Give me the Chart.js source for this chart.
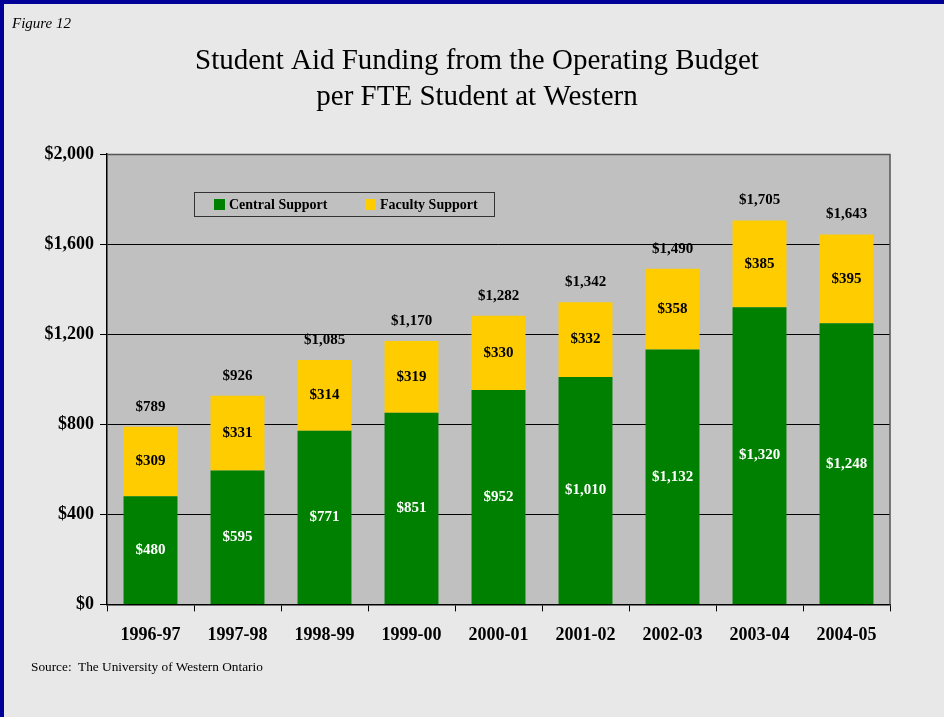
<!DOCTYPE html>
<html>
<head>
<meta charset="utf-8">
<script src="https://cdn.jsdelivr.net/npm/chart.js@4.4.1/dist/chart.umd.min.js"></script>
<style>
  html, body { margin: 0; padding: 0; background: #E8E8E8; }
  #wrap { position: relative; width: 944px; height: 717px; overflow: hidden; background: #E8E8E8; }
  #c { position: absolute; left: 0; top: 0; }
  .bl { position: absolute; left: 0; top: 0; width: 4px; height: 717px; background: #000099; }
  .bt { position: absolute; left: 0; top: 0; width: 944px; height: 4px; background: #000099; }
  #fig { position: absolute; left: 12px; top: 15px; font: italic 15px "Liberation Serif", "Times New Roman", serif; color: #000; }
  #src { position: absolute; left: 31px; top: 659px; font: 13.3px "Liberation Serif", "Times New Roman", serif; color: #000; }
</style>
</head>
<body>
<div id="wrap">
  <canvas id="c" width="944" height="717"></canvas>
  <div class="bl"></div><div class="bt"></div>
  <div id="fig">Figure 12</div>
  <div id="src">Source:&nbsp; The University of Western Ontario</div>
</div>
<script>
const categories = ["1996-97","1997-98","1998-99","1999-00","2000-01","2001-02","2002-03","2003-04","2004-05"];
const centralSupport = [480, 595, 771, 851, 952, 1010, 1132, 1320, 1248];
const facultySupport = [309, 331, 314, 319, 330, 332, 358, 385, 395];
const yTicks = [0, 400, 800, 1200, 1600, 2000];
const titleLines = ["Student Aid Funding from the Operating Budget", "per FTE Student at Western"];
const seriesNames = ["Central Support", "Faculty Support"];

const FONT = '"Liberation Serif", "Times New Roman", serif';
const GREEN = '#008000';
const YELLOW = '#FFCC00';

function money(v) { return '$' + v.toLocaleString('en-US'); }

const plotBg = {
  id: 'plotBg',
  beforeDraw(chart) {
    const { ctx, chartArea: a } = chart;
    ctx.save();
    ctx.fillStyle = '#C0C0C0';
    ctx.fillRect(a.left, a.top, a.right - a.left, a.bottom - a.top);
    ctx.restore();
  },
  afterDatasetsDraw(chart) {
    const { ctx, chartArea: a } = chart;
    ctx.save();
    ctx.strokeStyle = '#555555';
    ctx.lineWidth = 1.5;
    ctx.beginPath();
    ctx.moveTo(a.left, a.top + 0.5);
    ctx.lineTo(a.right, a.top + 0.5);
    ctx.lineTo(a.right, a.bottom);
    ctx.stroke();
    ctx.restore();
  },
  afterDraw(chart) {
    const { ctx } = chart;
    ctx.save();
    ctx.fillStyle = '#000';
    ctx.font = '29px ' + FONT;
    ctx.textAlign = 'center';
    ctx.textBaseline = 'middle';
    ctx.fillText(titleLines[0], 477, 61);
    ctx.fillText(titleLines[1], 477, 97);
    ctx.restore();
  }
};

const labels = {
  id: 'labels',
  afterDatasetsDraw(chart) {
    const { ctx } = chart;
    const m0 = chart.getDatasetMeta(0).data;
    const m1 = chart.getDatasetMeta(1).data;
    ctx.save();
    ctx.font = 'bold 15px ' + FONT;
    ctx.textAlign = 'center';
    ctx.textBaseline = 'middle';
    for (let i = 0; i < categories.length; i++) {
      const b0 = m0[i], b1 = m1[i];
      ctx.fillStyle = '#FFFFFF';
      ctx.fillText(money(centralSupport[i]), b0.x, (b0.y + b0.base) / 2);
      ctx.fillStyle = '#000000';
      ctx.fillText(money(facultySupport[i]), b1.x, (b1.y + b1.base) / 2);
      ctx.fillText(money(centralSupport[i] + facultySupport[i]), b1.x, b1.y - 20);
    }
    ctx.restore();
  }
};

const legendBox = {
  id: 'legendBox',
  afterDatasetsDraw(chart) {
    const { ctx } = chart;
    ctx.save();
    ctx.fillStyle = '#C0C0C0';
    ctx.fillRect(194, 192, 300, 24);
    ctx.strokeStyle = '#333333';
    ctx.lineWidth = 1;
    ctx.strokeRect(194.5, 192.5, 300, 24);
    ctx.font = 'bold 14px ' + FONT;
    ctx.textBaseline = 'middle';
    ctx.textAlign = 'left';
    const items = [[214, GREEN, seriesNames[0]], [365, YELLOW, seriesNames[1]]];
    for (const [x, col, txt] of items) {
      ctx.fillStyle = col;
      ctx.fillRect(x, 199, 11, 11);
      ctx.fillStyle = '#000';
      ctx.fillText(txt, x + 15, 205);
    }
    ctx.restore();
  }
};

new Chart(document.getElementById('c'), {
  type: 'bar',
  data: {
    labels: categories,
    datasets: [
      { label: seriesNames[0], data: centralSupport, backgroundColor: GREEN, borderWidth: 0 },
      { label: seriesNames[1], data: facultySupport, backgroundColor: YELLOW, borderWidth: 0 }
    ]
  },
  options: {
    responsive: false,
    animation: false,
    devicePixelRatio: 1,
    datasets: { bar: { categoryPercentage: 1, barPercentage: 0.62 } },
    layout: { padding: { left: 0, right: 54, top: 154, bottom: 58 } },
    plugins: {
      legend: { display: false },
      tooltip: { enabled: false },
      title: { display: false }
    },
    scales: {
      x: {
        stacked: true,
        grid: { display: true, drawOnChartArea: false, offset: true, color: '#000', tickLength: 7, tickColor: '#000' },
        border: { display: true, color: '#000', width: 1.5 },
        ticks: { color: '#000', font: { family: FONT, size: 18, weight: 'bold' }, padding: 13, maxRotation: 0 }
      },
      y: {
        stacked: true,
        min: 0, max: 2000,
        afterFit(scale) { scale.width = 107; },
        afterBuildTicks(scale) { scale.ticks = yTicks.map(v => ({ value: v })); },
        grid: { color: '#000', lineWidth: 1, tickLength: 7, drawTicks: true },
        border: { display: true, color: '#000', width: 1.5 },
        ticks: { color: '#000', font: { family: FONT, size: 18, weight: 'bold' }, padding: 6, callback: v => money(v) }
      }
    }
  },
  plugins: [plotBg, labels, legendBox]
});
</script>
</body>
</html>
